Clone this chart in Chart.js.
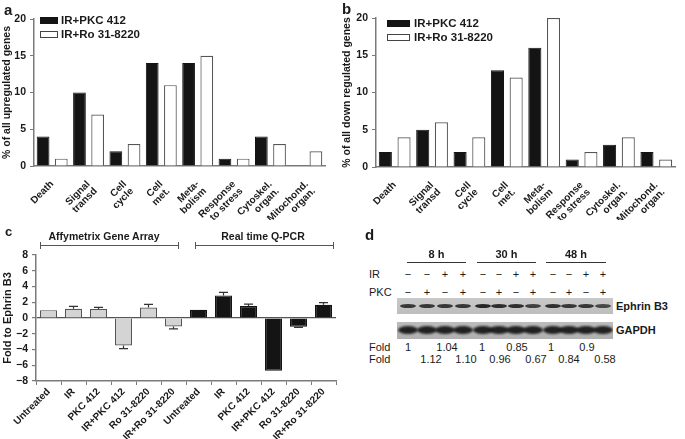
<!DOCTYPE html>
<html>
<head>
<meta charset="utf-8">
<script src="https://cdn.jsdelivr.net/npm/chart.js@4.4.1/dist/chart.umd.min.js"></script>
<style>
  html, body { margin:0; padding:0; background:#fff; }
  #fig { position:relative; width:685px; height:439px; overflow:hidden; background:#fff;
         font-family:"Liberation Sans", Arial, sans-serif; color:#1a1a1a; }
  .abs { position:absolute; }
  canvas { position:absolute; }
  .plab { position:absolute; font-weight:bold; font-size:15px; line-height:15px; }
  .leg { position:absolute; font-weight:bold; font-size:11.5px; line-height:12px; white-space:nowrap; }
  .lbox { position:absolute; box-sizing:border-box; }
  .t { position:absolute; white-space:nowrap; font-size:11px; line-height:12px; }
  .tc { transform:translateX(-50%); }
  .hline { position:absolute; height:1px; background:#333; }
  .blot { position:absolute; overflow:hidden; }
  .band { position:absolute; border-radius:50%; }
</style>
</head>
<body>
<div id="fig">
  <canvas id="ca" width="340" height="220" style="left:0;top:0;width:340px;height:220px"></canvas>
  <canvas id="cb" width="345" height="220" style="left:340px;top:0;width:345px;height:220px"></canvas>
  <canvas id="cc" width="345" height="219" style="left:0;top:220px;width:345px;height:219px"></canvas>
  <div id="overlay"></div>
</div>
<script>
// ---------------- DATA ----------------
const catsAB = ['Death', ['Signal','transd'], ['Cell','cycle'], ['Cell','met.'], ['Meta-','bolism'],
                ['Response','to stress'], ['Cytoskel.','organ.'], ['Mitochond.','organ.']];
const seriesNames = ['IR+PKC 412', 'IR+Ro 31-8220'];
const upPKC  = [4, 10, 2, 14, 14, 1, 4, 0];
const upRo   = [1, 7, 3, 11, 15, 1, 3, 2];
const downPKC = [2, 5, 2, 13, 16, 1, 3, 2];
const downRo  = [4, 6, 4, 12, 20, 2, 4, 1];

const catsC = ['Untreated','IR','PKC 412','IR+PKC 412','Ro 31-8220','IR+Ro 31-8220',
               'Untreated','IR','PKC 412','IR+PKC 412','Ro 31-8220','IR+Ro 31-8220'];
const foldC = [1.0, 1.17, 1.15, -3.5, 1.32, -1.07, 1.05, 2.87, 1.52, -6.7, -1.12, 1.68];
const errC  = [0, 0.3, 0.2, 0.4, 0.4, 0.3, 0, 0.38, 0.25, 0, 0.08, 0.28];
const groupC = ['Affymetrix Gene Array','Real time Q-PCR'];

const timesD = ['8 h','30 h','48 h'];
const irD  = ['−','−','+','+','−','−','+','+','−','−','+','+'];
const pkcD = ['−','+','−','+','−','+','−','+','−','+','−','+'];
const fold1D = ['1','1.04','1','0.85','1','0.9'];
const fold2D = ['1.12','1.10','0.96','0.67','0.84','0.58'];
const ephrinD = [0.85, 0.85, 0.85, 0.85, 0.95, 0.9, 0.9, 0.8, 0.9, 0.85, 0.85, 0.75];

// ---------------- CHARTS ----------------
const FONT = '"Liberation Sans", Arial, sans-serif';
Chart.defaults.font.family = FONT;
Chart.defaults.color = '#1a1a1a';
const AX = '#7a7a7a';

function barChart(id, left, top, bottom, right, H, pkc, ro, ytitle) {
  return new Chart(document.getElementById(id), {
    type: 'bar',
    data: { labels: catsAB, datasets: [
      { label: seriesNames[0], data: pkc, backgroundColor: '#141414', borderColor: '#141414', borderWidth: 1,
        barPercentage: 0.7, categoryPercentage: 1.0 },
      { label: seriesNames[1], data: ro, backgroundColor: '#ffffff', borderColor: '#555', borderWidth: 1.2,
        barPercentage: 0.7, categoryPercentage: 1.0 }
    ]},
    options: {
      responsive: false, animation: false,
      layout: { padding: { left: 0, top: top, right: right, bottom: 0 } },
      plugins: { legend: { display: false }, tooltip: { enabled: false } },
      scales: {
        x: {
          grid: { display: false }, border: { color: AX, width: 1.5 },
          ticks: { autoSkip: false, minRotation: 45, maxRotation: 45, padding: 5,
                   font: { size: 10, weight: 'bold', lineHeight: 1.0 }, color: '#1a1a1a' },
          afterFit: s => { s.height = H - bottom; }
        },
        y: {
          min: 0, max: 20,
          grid: { drawOnChartArea: false, tickLength: 4, color: AX }, border: { color: AX, width: 1.5 },
          ticks: { stepSize: 5, padding: 4, font: { size: 10.5, weight: 'bold' }, color: '#1a1a1a' },
          title: { display: true, text: ytitle, font: { size: 10.5, weight: 'bold' }, padding: { top: 1, bottom: 0 } },
          afterFit: s => { s.width = left; }
        }
      }
    }
  });
}
barChart('ca', 34, 19, 166, 15, 220, upPKC, upRo, '% of all upregulated genes');
barChart('cb', 36, 18, 167, 10, 220, downPKC, downRo, '% of all down regulated genes');

const errPlugin = {
  id: 'errbars',
  afterDatasetsDraw(chart) {
    const ctx = chart.ctx, ys = chart.scales.y, meta = chart.getDatasetMeta(0);
    ctx.save();
    ctx.strokeStyle = '#333'; ctx.lineWidth = 1.2;
    meta.data.forEach((bar, i) => {
      const e = errC[i]; if (!e) return;
      const v = foldC[i]; const sgn = v >= 0 ? 1 : -1;
      const y0 = ys.getPixelForValue(v), y1 = ys.getPixelForValue(v + sgn * e);
      ctx.beginPath(); ctx.moveTo(bar.x, y0); ctx.lineTo(bar.x, y1);
      ctx.moveTo(bar.x - 4.5, y1); ctx.lineTo(bar.x + 4.5, y1); ctx.stroke();
    });
    ctx.restore();
  }
};

const colorsC = foldC.map((v, i) => i < 6 ? '#d4d4d4' : '#141414');
new Chart(document.getElementById('cc'), {
  type: 'bar',
  data: { labels: catsC, datasets: [{ label: 'Fold to Ephrin B3', data: foldC,
    backgroundColor: colorsC, borderColor: foldC.map((v, i) => i < 6 ? '#555' : '#141414'), borderWidth: 1.2,
    barPercentage: 0.68, categoryPercentage: 1.0 }] },
  options: {
    responsive: false, animation: false,
    layout: { padding: { left: 0, top: 35, right: 9, bottom: 0 } },
    plugins: { legend: { display: false }, tooltip: { enabled: false } },
    scales: {
      x: {
        grid: { drawOnChartArea: false, tickLength: 4, color: AX }, border: { color: AX, width: 1.5 },
        ticks: { autoSkip: false, minRotation: 45, maxRotation: 45, padding: 1,
                 font: { size: 10, weight: 'bold' }, color: '#1a1a1a' },
        afterFit: s => { s.height = 219 - 161; }
      },
      y: {
        min: -8, max: 8,
        grid: { drawOnChartArea: true, tickLength: 4, tickColor: AX, lineWidth: 1.2,
                color: c => (c.tick && c.tick.value === 0) ? '#555' : 'rgba(0,0,0,0)' },
        border: { color: AX, width: 1.5 },
        ticks: { stepSize: 2, padding: 4, font: { size: 10.5, weight: 'bold' }, color: '#1a1a1a',
                 callback: v => v < 0 ? '\u2212' + Math.abs(v) : '' + v },
        title: { display: true, text: 'Fold to Ephrin B3', font: { size: 11, weight: 'bold' }, padding: { top: 1, bottom: 0 } },
        afterFit: s => { s.width = 36; }
      }
    }
  },
  plugins: [errPlugin]
});

// ---------------- HTML OVERLAYS ----------------
const ov = document.getElementById('overlay');
function add(html) { ov.insertAdjacentHTML('beforeend', html); }

// panel letters
add('<div class="plab" style="left:4px;top:2px">a</div>');
add('<div class="plab" style="left:342px;top:1px">b</div>');
add('<div class="plab" style="left:5px;top:224px;font-size:13px">c</div>');
add('<div class="plab" style="left:365px;top:227px">d</div>');

// legends a / b
function legend(x, y1, y2, w, tx) {
  add(`<div class="lbox" style="left:${x}px;top:${y1}px;width:${w}px;height:7px;background:#141414"></div>`);
  add(`<div class="leg" style="left:${tx}px;top:${y1 - 3}px">${seriesNames[0]}</div>`);
  add(`<div class="lbox" style="left:${x}px;top:${y2}px;width:${w}px;height:7px;background:#fff;border:1px solid #444"></div>`);
  add(`<div class="leg" style="left:${tx}px;top:${y2 - 3}px">${seriesNames[1]}</div>`);
}
legend(40, 17, 31, 18, 61);
legend(387, 20, 34, 23, 414);

// panel c brackets
function bracket(x1, x2, y, label, cx) {
  add(`<div class="hline" style="left:${x1}px;top:${y}px;width:${x2 - x1}px;background:#555"></div>`);
  add(`<div class="abs" style="left:${x1}px;top:${y - 3}px;width:1px;height:7px;background:#555"></div>`);
  add(`<div class="abs" style="left:${x2}px;top:${y - 3}px;width:1px;height:7px;background:#555"></div>`);
  add(`<div class="t tc" style="left:${cx}px;top:${y - 15}px;font-weight:bold;font-size:10.5px">${label}</div>`);
}
bracket(40, 178, 245, groupC[0], 104);
bracket(195, 333, 245, groupC[1], 263);

// panel d
const laneX = [408, 427, 445, 463, 483, 499, 516, 533, 553, 569, 586, 603];
const timeLines = [[407, 466], [477, 536], [546, 606]];
timesD.forEach((t, i) => {
  const [a, b] = timeLines[i];
  add(`<div class="t tc" style="left:${(a + b) / 2}px;top:248px;font-weight:bold">${t}</div>`);
  add(`<div class="hline" style="left:${a}px;top:262px;width:${b - a}px"></div>`);
});
add('<div class="t" style="left:369px;top:268px">IR</div>');
add('<div class="t" style="left:369px;top:286px">PKC</div>');
laneX.forEach((x, i) => {
  add(`<div class="t tc" style="left:${x}px;top:268px">${irD[i]}</div>`);
  add(`<div class="t tc" style="left:${x}px;top:286px">${pkcD[i]}</div>`);
});
// blots
let b1 = '<div class="blot" style="left:397px;top:298px;width:216px;height:16px;background:linear-gradient(#c9c9c9,#bdbdbd)">';
laneX.forEach((x, i) => {
  const a = ephrinD[i];
  b1 += `<div class="band" style="left:${x - 397 - 8}px;top:6px;width:16px;height:4px;background:rgba(30,30,30,${a});filter:blur(0.7px)"></div>`;
});
b1 += '</div>';
add(b1);
let b2 = '<div class="blot" style="left:397px;top:322px;width:216px;height:17px;background:linear-gradient(#bcbcbc,#b0b0b0)">';
laneX.forEach((x) => {
  b2 += `<div class="band" style="left:${x - 397 - 10}px;top:4px;width:20px;height:8px;background:rgba(25,25,25,0.95);filter:blur(0.9px)"></div>`;
});
b2 += '</div>';
add(b2);
add('<div class="t" style="left:616px;top:300px;font-weight:bold">Ephrin B3</div>');
add('<div class="t" style="left:616px;top:324px;font-weight:bold">GAPDH</div>');
add('<div class="t" style="left:369px;top:341px">Fold</div>');
add('<div class="t" style="left:369px;top:353px">Fold</div>');
const f1x = [408, 447, 482, 517, 551, 587];
const f2x = [431, 466, 500, 536, 569, 605];
fold1D.forEach((f, i) => add(`<div class="t tc" style="left:${f1x[i]}px;top:341px">${f}</div>`));
fold2D.forEach((f, i) => add(`<div class="t tc" style="left:${f2x[i]}px;top:353px">${f}</div>`));
</script>
</body>
</html>
